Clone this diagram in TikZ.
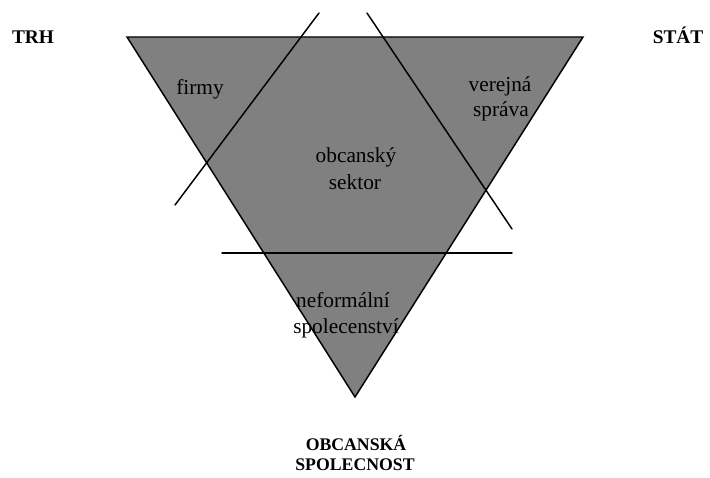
\documentclass[tikz,border=0pt]{standalone}
\usepackage{fontspec}
\setmainfont{Liberation Serif}
\begin{document}
\begin{tikzpicture}[x=0.75pt,y=-0.75pt,
  lbl/.style={font=\fontsize{16}{20}\selectfont, inner sep=0pt, anchor=base},
  big/.style={font=\fontsize{14.5}{17}\selectfont\bfseries, inner sep=0pt, anchor=base},
  bigb/.style={font=\fontsize{13.3}{17}\selectfont\bfseries, inner sep=0pt, anchor=base},
  ln/.style={line width=1.1pt, line cap=round},
  tri/.style={fill=gray, draw=black, line width=1.1pt, line join=miter}]
\useasboundingbox (0,0) rectangle (710,478);
\coordinate (A) at (127,37);
\coordinate (B) at (583,37);
\coordinate (C) at (355,397);
\coordinate (l1a) at (319,13);
\coordinate (l1b) at (175,205);
\coordinate (l2a) at (367,13);
\coordinate (l2b) at (512,229);
\coordinate (l3a) at (222,253);
\coordinate (l3b) at (512,253);
\path[tri] (A) -- (B) -- (C) -- cycle;
\draw[ln] (l1a) -- (l1b);
\draw[ln] (l2a) -- (l2b);
\draw[ln] (l3a) -- (l3b);
\node[big] (trh) at (33,44) {TRH};
\node[big] (stat) at (678,44) {STÁT};
\node[lbl] (firmy) at (200,94) {firmy};
\node[lbl] (ver1) at (500,91) {verejná};
\node[lbl] (ver2) at (501,117) {správa};
\node[lbl] (obc1) at (356,162) {obcanský};
\node[lbl] (obc2) at (355,189) {sektor};
\node[lbl] (nef1) at (343,307) {neformální};
\node[lbl] (nef2) at (346,333) {spolecenství};
\node[bigb] (os1) at (356,450) {OBCANSKÁ};
\node[bigb] (os2) at (355,470) {SPOLECNOST};
\end{tikzpicture}
\end{document}
